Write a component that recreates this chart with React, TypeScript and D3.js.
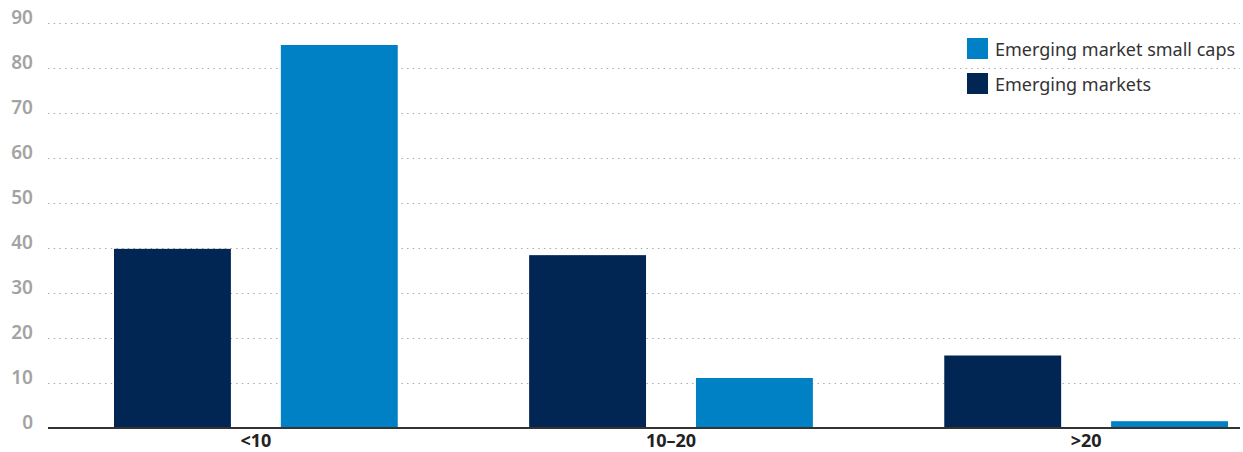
import React from "react";
import * as d3 from "d3";

const categories = ["<10", "10–20", ">20"];
const seriesNames = ["Emerging markets", "Emerging market small caps"];
const emergingMarkets = [39.7, 38.3, 16];
const emergingSmallCaps = [85, 11, 1.4];
const yTicks = [0, 10, 20, 30, 40, 50, 60, 70, 80, 90];
const legendOrder = ["Emerging market small caps", "Emerging markets"];
const colors: Record<string, string> = {
  "Emerging markets": "#022654",
  "Emerging market small caps": "#0080c5",
};

const W = 1243;
const H = 452;

export default function App() {
  const seriesValues: Record<string, number[]> = {
    "Emerging markets": emergingMarkets,
    "Emerging market small caps": emergingSmallCaps,
  };
  const y = d3.scaleLinear().domain([0, 90]).range([427.5, 22.5]);
  const x0 = d3
    .scaleBand<string>()
    .domain(categories)
    .range([114, 1228])
    .paddingInner(0.3165)
    .paddingOuter(0);
  const x1 = d3
    .scaleBand<string>()
    .domain(seriesNames)
    .range([0, x0.bandwidth()])
    .paddingInner(0.2994)
    .paddingOuter(0);
  const gridX0 = 48;
  const gridX1 = 1240;
  const font = "'Noto Sans', 'Open Sans', sans-serif";

  return (
    <div style={{ position: "fixed", left: 0, top: 0, width: W, height: H, background: "#fff" }}>
      <svg width={W} height={H} style={{ display: "block" }}>
        {yTicks.map((t) => (
          <g key={t}>
            {t !== 0 && (
              <line
                x1={gridX0}
                x2={gridX1}
                y1={Math.round(y(t)) + 0.5}
                y2={Math.round(y(t)) + 0.5}
                stroke="#aaaaaa"
                strokeWidth={1}
                strokeDasharray="1.5 4.2"
              />
            )}
            <text
              x={33}
              y={y(t) + 1.5}
              textAnchor="end"
              fontFamily={font}
              fontSize={19}
              fontWeight={600}
              fill="#a3a3a3"
            >
              {t}
            </text>
          </g>
        ))}
        {categories.map((c, i) => (
          <g key={c} transform={`translate(${x0(c)},0)`}>
            {seriesNames.map((s) => {
              const v = seriesValues[s][i];
              return (
                <rect
                  key={s}
                  x={x1(s)}
                  y={y(v)}
                  width={x1.bandwidth()}
                  height={y(0) - y(v)}
                  fill={colors[s]}
                />
              );
            })}
            <text
              x={x0.bandwidth() / 2}
              y={447}
              textAnchor="middle"
              fontFamily={font}
              fontSize={18}
              fontWeight={700}
              fill="#222"
            >
              {c}
            </text>
          </g>
        ))}
        <line x1={gridX0} x2={gridX1} y1={y(0) + 0.5} y2={y(0) + 0.5} stroke="#333" strokeWidth={2} />
        {legendOrder.map((s, i) => (
          <g key={s} transform={`translate(967,${38 + i * 35})`}>
            <rect x={0} y={0} width={21} height={21} fill={colors[s]} />
            <text x={28} y={18} fontFamily={font} fontSize={18} fill="#333">
              {s}
            </text>
          </g>
        ))}
      </svg>
    </div>
  );
}
